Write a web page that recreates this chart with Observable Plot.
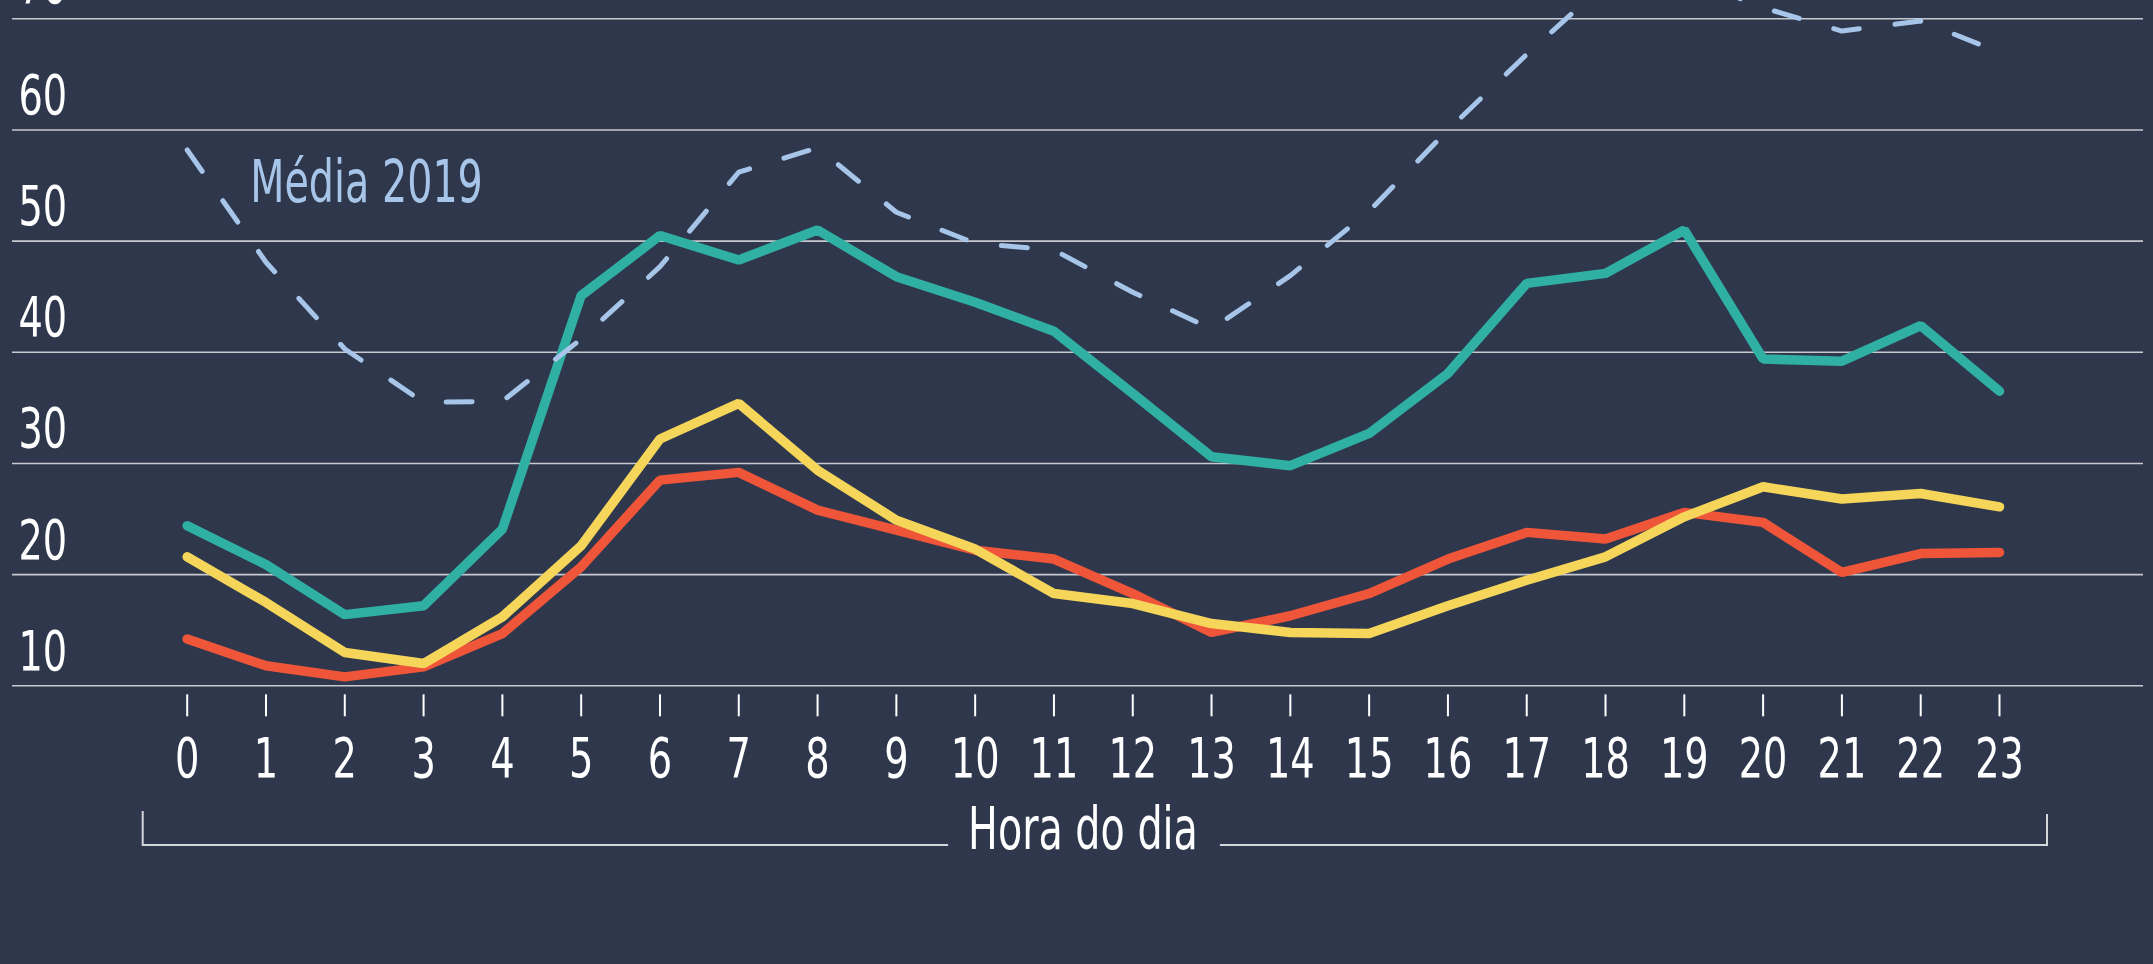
<!DOCTYPE html>
<html><head><meta charset="utf-8">
<script src="https://cdn.jsdelivr.net/npm/d3@7"></script>
<script src="https://cdn.jsdelivr.net/npm/@observablehq/plot@0.6"></script>
<style>
html,body{margin:0;padding:0;background:#2e374c;overflow:hidden;}
#chart svg{display:block;}
</style></head><body><div id="chart"></div>
<script>
// ---- data ----
const hours = [0,1,2,3,4,5,6,7,8,9,10,11,12,13,14,15,16,17,18,19,20,21,22,23];
const serieVerde = [24.4,20.9,16.4,17.2,24.1,45.1,50.5,48.3,51.0,46.8,44.5,41.9,36.3,30.6,29.8,32.7,38.1,46.2,47.1,51.0,39.4,39.2,42.4,36.5];
const serieVermelha = [14.2,11.8,10.8,11.7,14.7,20.7,28.5,29.2,25.8,24.0,22.2,21.4,18.3,14.8,16.3,18.3,21.4,23.8,23.2,25.6,24.7,20.2,21.9,22.0];
const serieAmarela = [21.6,17.5,13.0,12.0,16.2,22.6,32.2,35.4,29.4,24.9,22.3,18.3,17.4,15.6,14.8,14.7,17.2,19.5,21.6,25.2,27.9,26.8,27.3,26.1];
const media2019 = [58.2,48.1,40.3,35.5,35.6,41.2,47.7,56.2,58.4,52.6,49.8,49.2,45.4,42.1,46.9,52.7,60.0,66.8,73.2,73.8,71.0,68.9,69.8,67.0];
const yTicks = [10,20,30,40,50,60,70];
const xTitle = "Hora do dia";
const mediaLabel = ["Média 2019"];
const mediaLabelHour = [0.8];
const mediaLabelValue = [55.2];

const FONT = '"Liberation Sans Narrow","DejaVu Sans Condensed","Roboto Condensed","Noto Sans",sans-serif';
const BG = "#2e374c";
const SQUEEZE = 0.76; // condensed look of the original typeface

const toRows = (values) => hours.map((h, i) => ({hora: h, valor: values[i]}));

const chart = Plot.plot({
  width: 2153,
  height: 964,
  marginLeft: 12,
  marginRight: 10,
  marginTop: 18.3,
  marginBottom: 278.7,
  style: {background: BG, fontFamily: FONT, color: "#ffffff", overflow: "hidden"},
  x: {domain: [0, 23], range: [186.7, 1999], axis: null},
  y: {domain: [10, 70], range: [685.3, 18.3], axis: null},
  marks: [
    Plot.ruleY(yTicks, {stroke: "#c8c9cf", strokeWidth: 1.6}),
    Plot.text(yTicks, {y: d => d, text: d => String(d), frameAnchor: "left", textAnchor: "start",
      lineAnchor: "bottom", dx: 6, dy: -16, fontSize: 56, fill: "#ffffff"}),
    Plot.axisX(hours, {tickSize: 22, tickPadding: 20, dy: 9, fontSize: 56, strokeWidth: 2,
      tickFormat: d => String(d), label: null, stroke: "#ffffff", fill: "#ffffff"}),
    Plot.line(toRows(serieVerde), {x: "hora", y: "valor", stroke: "#2fb0a3", strokeWidth: 9.5,
      strokeLinecap: "round", strokeLinejoin: "miter"}),
    Plot.line(toRows(serieVermelha), {x: "hora", y: "valor", stroke: "#ef5539", strokeWidth: 9.5,
      strokeLinecap: "round", strokeLinejoin: "miter"}),
    Plot.line(toRows(serieAmarela), {x: "hora", y: "valor", stroke: "#f6d65a", strokeWidth: 9.5,
      strokeLinecap: "round", strokeLinejoin: "miter"}),
    Plot.line(toRows(media2019), {x: "hora", y: "valor", stroke: "#a7c5e8", strokeWidth: 5,
      strokeDasharray: "26 36", strokeLinecap: "round", strokeLinejoin: "miter"}),
    Plot.text(mediaLabel, {x: (d, i) => mediaLabelHour[i], y: (d, i) => mediaLabelValue[i], text: d => d,
      textAnchor: "start", fontSize: 58, fill: "#a7c5e8"}),
    Plot.text([xTitle], {frameAnchor: "bottom", text: d => d, dy: 163, dx: 5, fontSize: 58,
      fill: "#ffffff", className: "xtitle"})
  ]
});

document.getElementById("chart").appendChild(chart);

const svg = d3.select(chart);
// condense every text horizontally (the original uses a narrow typeface)
svg.selectAll("text").each(function () {
  const L = this.getComputedTextLength();
  if (L > 0) {
    this.setAttribute("textLength", (L * SQUEEZE).toFixed(1));
    this.setAttribute("lengthAdjust", "spacingAndGlyphs");
  }
});

// bracket around the x-axis title
const X = chart.scale("x");
const svgRect = chart.getBoundingClientRect();
const tRect = svg.select(".xtitle text").node().getBoundingClientRect();
const tLeft = tRect.left - svgRect.left;
const tRight = tRect.right - svgRect.left;
const left = X.apply(hours[0]) - 44;
const right = X.apply(hours[hours.length - 1]) + 48;
const yb = 845;
const g = svg.append("g").attr("fill", "none").attr("stroke", "#d4d5da").attr("stroke-width", 2);
g.append("path").attr("d", `M${left},${yb - 34}V${yb}H${tLeft - 20}`);
g.append("path").attr("d", `M${tRight + 22},${yb}H${right}V${yb - 31}`);
</script>
</body></html>
